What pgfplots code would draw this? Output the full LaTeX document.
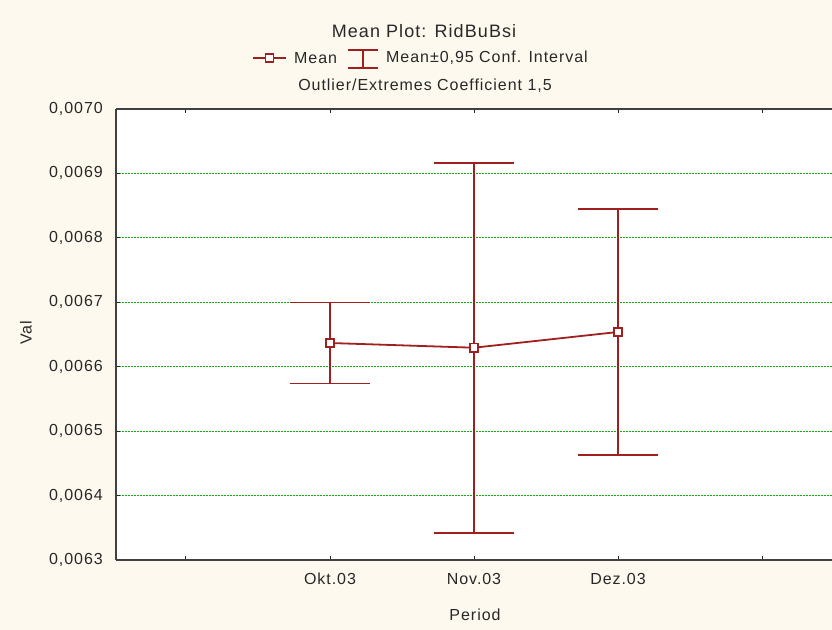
\documentclass[border=0pt]{standalone}
\usepackage{pgfplots}
\pgfplotsset{compat=1.18}
\usepackage{fontspec}
\setmainfont{Liberation Sans}[LetterSpace=6]

\definecolor{bgcream}{RGB}{253,249,238}
\definecolor{meanred}{RGB}{160,32,32}
\definecolor{gridgreen}{RGB}{20,170,20}
\definecolor{txt}{RGB}{40,40,40}

\begin{document}
\begin{tikzpicture}[x=1bp,y=1bp]
\useasboundingbox (0,0) rectangle (832,630);
\fill[bgcream] (0,0) rectangle (832,630);
\begin{axis}[
  at={(116bp,70bp)}, anchor=south west,
  scale only axis, width=716bp, height=451bp,
  xmin=-0.486, xmax=4.486,
  ymin=0.0063, ymax=0.0070,
  axis background/.style={fill=white},
  axis x line*=box, axis y line*=left,
  axis line style={draw=black!75, line width=1.3bp},
  tick align=inside,
  major tick length=4bp,
  tick style={black!85, line width=1bp},
  xtick={0,1,2,3,4},
  xticklabels={,Okt.03,Nov.03,Dez.03,},
  ytick={0.0063,0.0064,0.0065,0.0066,0.0067,0.0068,0.0069,0.0070},
  yticklabels={{0,0063},{0,0064},{0,0065},{0,0066},{0,0067},{0,0068},{0,0069},{0,0070}},
  scaled y ticks=false,
  ymajorgrids,
  grid style={gridgreen, dash pattern=on 2bp off 1bp, line width=1bp},
  ticklabel style={font=\fontsize{16bp}{18bp}\selectfont, text=txt},
  yticklabel style={inner sep=0pt, xshift=-13bp},
  xticklabel style={inner sep=0pt, yshift=-13bp},
  clip=false,
]
\addplot[meanred, line width=1.8bp,
  mark=square*, mark options={fill=white, mark size=4.2bp, line width=1.5bp, solid},
  error bars/.cd, y dir=both, y explicit,
  error bar style={meanred, line width=1.8bp},
  error mark options={meanred, rotate=90, mark size=40bp, line width=1.8bp}]
coordinates {
  (1,0.0066368) +- (0,0.0000628)
  (2,0.0066295) +- (0,0.0002870)
  (3,0.0066539) +- (0,0.0001909)
};
\end{axis}

% titles and legend
\node[text=txt, font=\fontsize{18bp}{20bp}\selectfont] at (424,599) {Mean Plot: RidBuBsi};
\draw[meanred, line width=1.8] (253,572) -- (286,572);
\draw[meanred, line width=1.5, fill=white] (265.5,568) rectangle (273.5,576);
\node[anchor=west, inner sep=0pt, text=txt, font=\fontsize{16bp}{18bp}\selectfont] at (294,572) {Mean};
\draw[meanred, line width=1.8] (348,580) -- (378,580) (363,580) -- (363,562) (348,562) -- (378,562);
\node[anchor=west, inner sep=0pt, text=txt, font=\fontsize{16bp}{18bp}\selectfont] at (386,572) {Mean±0,95 Conf. Interval};
\node[text=txt, font=\fontsize{16bp}{18bp}\selectfont] at (425,544) {Outlier/Extremes Coefficient 1,5};

% axis titles
\node[text=txt, rotate=90, font=\fontsize{16bp}{18bp}\selectfont] at (26,297) {Val};
\node[text=txt, font=\fontsize{16bp}{18bp}\selectfont] at (475,15) {Period};
\end{tikzpicture}
\end{document}
